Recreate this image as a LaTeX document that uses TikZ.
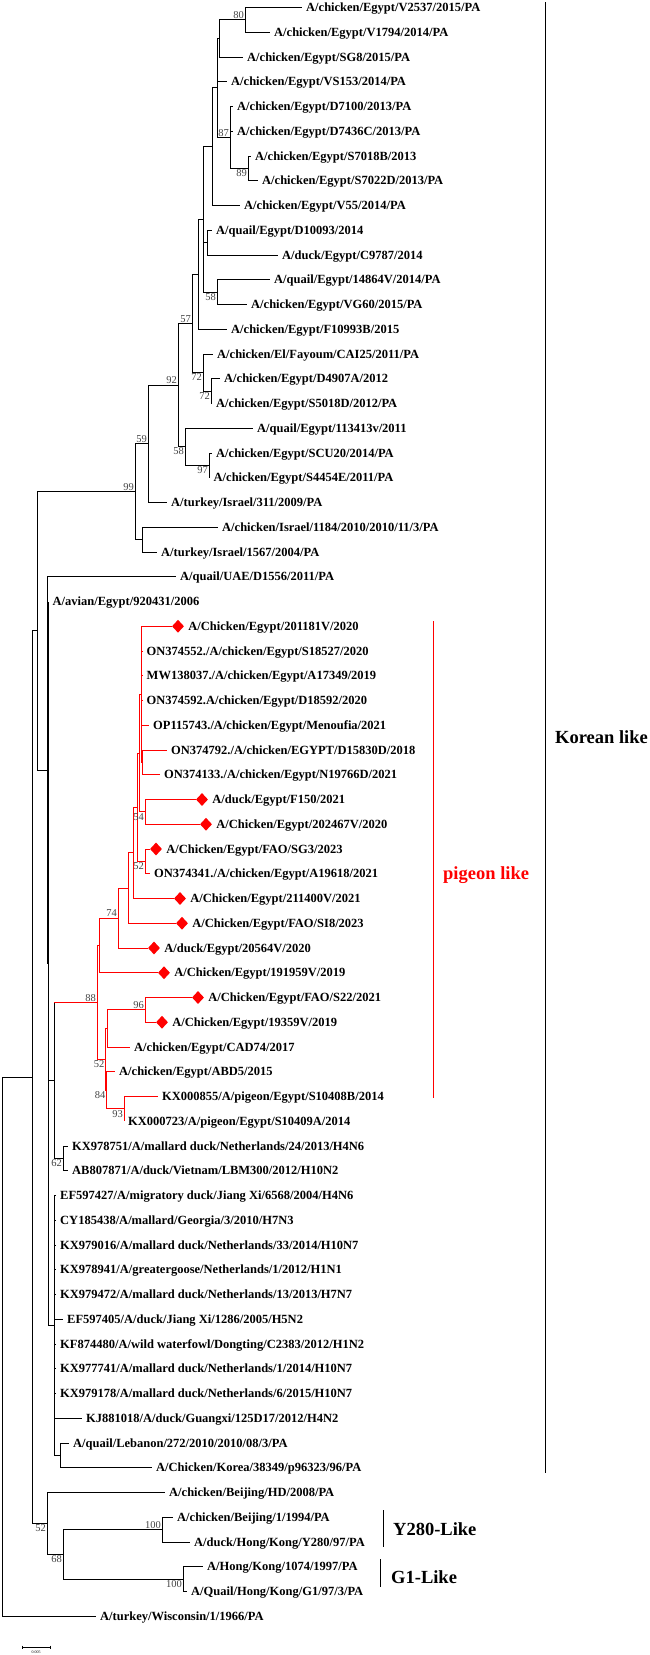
\documentclass[tikz,border=0pt]{standalone}
\usepackage{fontspec}
\setmainfont{Liberation Serif}
\usetikzlibrary{positioning,shapes.geometric}
\newcommand{\lblfont}{\fontsize{12.5}{14}\selectfont\bfseries}
\newcommand{\bsfont}{\fontsize{10.5}{12}\selectfont}
\newcommand{\cladefont}{\fontsize{18.5}{20}\selectfont\bfseries}
\definecolor{bsgray}{HTML}{444444}
\begin{document}
\begin{tikzpicture}[x=1pt, y=-1pt,
    leaf/.style={anchor=west, font=\lblfont, inner xsep=4pt, inner ysep=0pt, text height=8pt, text depth=0pt},
    mk/.style={diamond, fill=red, draw=none, minimum width=12pt, minimum height=13pt, inner sep=0pt},
    boot/.style={font=\bsfont, text=bsgray, inner sep=1pt},
    br/.style={line width=0.9pt, black},
    rbr/.style={line width=0.9pt, red},
    clade/.style={font=\cladefont, anchor=west, inner sep=0pt, text height=13pt, text depth=0pt}
  ]
\fill[white] (0,0) rectangle (650,1655);
\useasboundingbox (0,0) rectangle (650,1655);

% leaves
\node[leaf] (v2537) at (302,7.5) {A/chicken/Egypt/V2537/2015/PA};
\node[leaf] (v1794) at (270,32.25) {A/chicken/Egypt/V1794/2014/PA};
\node[leaf] (sg8) at (243,57) {A/chicken/Egypt/SG8/2015/PA};
\node[leaf] (vs153) at (227,81.75) {A/chicken/Egypt/VS153/2014/PA};
\node[leaf] (d7100) at (233,106.5) {A/chicken/Egypt/D7100/2013/PA};
\node[leaf] (d7436c) at (233,131.25) {A/chicken/Egypt/D7436C/2013/PA};
\node[leaf] (s7018b) at (251,156) {A/chicken/Egypt/S7018B/2013};
\node[leaf] (s7022d) at (258,180.75) {A/chicken/Egypt/S7022D/2013/PA};
\node[leaf] (v55) at (240,205.5) {A/chicken/Egypt/V55/2014/PA};
\node[leaf] (d10093) at (212,230.25) {A/quail/Egypt/D10093/2014};
\node[leaf] (c9787) at (278,255) {A/duck/Egypt/C9787/2014};
\node[leaf] (q14864v) at (270,279.75) {A/quail/Egypt/14864V/2014/PA};
\node[leaf] (vg60) at (247,304.5) {A/chicken/Egypt/VG60/2015/PA};
\node[leaf] (f10993b) at (227,329.25) {A/chicken/Egypt/F10993B/2015};
\node[leaf] (cai25) at (213,354) {A/chicken/El/Fayoum/CAI25/2011/PA};
\node[leaf] (d4907a) at (220,378.75) {A/chicken/Egypt/D4907A/2012};
\node[leaf] (s5018d) at (212,403.5) {A/chicken/Egypt/S5018D/2012/PA};
\node[leaf] (q113413v) at (253,428.25) {A/quail/Egypt/113413v/2011};
\node[leaf] (scu20) at (212,453) {A/chicken/Egypt/SCU20/2014/PA};
\node[leaf] (s4454e) at (209.5,477.75) {A/chicken/Egypt/S4454E/2011/PA};
\node[leaf] (tk311) at (167,502.5) {A/turkey/Israel/311/2009/PA};
\node[leaf] (isr1184) at (218,527.25) {A/chicken/Israel/1184/2010/2010/11/3/PA};
\node[leaf] (tk1567) at (157,552) {A/turkey/Israel/1567/2004/PA};
\node[leaf] (uae) at (176,576.75) {A/quail/UAE/D1556/2011/PA};
\node[leaf] (avian) at (48.5,601.5) {A/avian/Egypt/920431/2006};
\node[mk] (m201181v) at (178,626.25) {};
\node[leaf, right=0pt of m201181v] (c201181v) {A/Chicken/Egypt/201181V/2020};
\node[leaf] (on552) at (142.5,651) {ON374552./A/chicken/Egypt/S18527/2020};
\node[leaf] (mw037) at (142.5,675.75) {MW138037./A/chicken/Egypt/A17349/2019};
\node[leaf] (on592) at (142.5,700.5) {ON374592.A/chicken/Egypt/D18592/2020};
\node[leaf] (op743) at (149,725.25) {OP115743./A/chicken/Egypt/Menoufia/2021};
\node[leaf] (on792) at (167,750) {ON374792./A/chicken/EGYPT/D15830D/2018};
\node[leaf] (on133) at (160,774.75) {ON374133./A/chicken/Egypt/N19766D/2021};
\node[mk] (mf150) at (202,799.5) {};
\node[leaf, right=0pt of mf150] (f150) {A/duck/Egypt/F150/2021};
\node[mk] (m202467v) at (206,824.25) {};
\node[leaf, right=0pt of m202467v] (c202467v) {A/Chicken/Egypt/202467V/2020};
\node[mk] (msg3) at (156,849) {};
\node[leaf, right=0pt of msg3] (sg3) {A/Chicken/Egypt/FAO/SG3/2023};
\node[leaf] (on341) at (150,873.75) {ON374341./A/chicken/Egypt/A19618/2021};
\node[mk] (m211400v) at (180,898.5) {};
\node[leaf, right=0pt of m211400v] (c211400v) {A/Chicken/Egypt/211400V/2021};
\node[mk] (msi8) at (182,923.25) {};
\node[leaf, right=0pt of msi8] (si8) {A/Chicken/Egypt/FAO/SI8/2023};
\node[mk] (m20564v) at (154,948) {};
\node[leaf, right=0pt of m20564v] (d20564v) {A/duck/Egypt/20564V/2020};
\node[mk] (m191959v) at (164,972.75) {};
\node[leaf, right=0pt of m191959v] (c191959v) {A/Chicken/Egypt/191959V/2019};
\node[mk] (ms22) at (198,997.5) {};
\node[leaf, right=0pt of ms22] (s22) {A/Chicken/Egypt/FAO/S22/2021};
\node[mk] (m19359v) at (162,1022.25) {};
\node[leaf, right=0pt of m19359v] (c19359v) {A/Chicken/Egypt/19359V/2019};
\node[leaf] (cad74) at (130,1047) {A/chicken/Egypt/CAD74/2017};
\node[leaf] (abd5) at (115,1071.75) {A/chicken/Egypt/ABD5/2015};
\node[leaf] (kx855) at (158,1096.5) {KX000855/A/pigeon/Egypt/S10408B/2014};
\node[leaf] (kx723) at (124,1121.25) {KX000723/A/pigeon/Egypt/S10409A/2014};
\node[leaf] (kx751) at (68,1146) {KX978751/A/mallard duck/Netherlands/24/2013/H4N6};
\node[leaf] (ab871) at (68,1170.75) {AB807871/A/duck/Vietnam/LBM300/2012/H10N2};
\node[leaf] (ef427) at (56,1195.5) {EF597427/A/migratory duck/Jiang Xi/6568/2004/H4N6};
\node[leaf] (cy438) at (56,1220.25) {CY185438/A/mallard/Georgia/3/2010/H7N3};
\node[leaf] (kx016) at (56,1245) {KX979016/A/mallard duck/Netherlands/33/2014/H10N7};
\node[leaf] (kx941) at (56,1269.75) {KX978941/A/greatergoose/Netherlands/1/2012/H1N1};
\node[leaf] (kx472) at (56,1294.5) {KX979472/A/mallard duck/Netherlands/13/2013/H7N7};
\node[leaf] (ef405) at (63,1319.25) {EF597405/A/duck/Jiang Xi/1286/2005/H5N2};
\node[leaf] (kf480) at (56,1344) {KF874480/A/wild waterfowl/Dongting/C2383/2012/H1N2};
\node[leaf] (kx741) at (56,1368.75) {KX977741/A/mallard duck/Netherlands/1/2014/H10N7};
\node[leaf] (kx178) at (56,1393.5) {KX979178/A/mallard duck/Netherlands/6/2015/H10N7};
\node[leaf] (kj018) at (82,1418.25) {KJ881018/A/duck/Guangxi/125D17/2012/H4N2};
\node[leaf] (lebanon) at (69,1443) {A/quail/Lebanon/272/2010/2010/08/3/PA};
\node[leaf] (korea) at (152,1467.75) {A/Chicken/Korea/38349/p96323/96/PA};
\node[leaf] (bjhd) at (165,1492.5) {A/chicken/Beijing/HD/2008/PA};
\node[leaf] (bj1994) at (173,1517.25) {A/chicken/Beijing/1/1994/PA};
\node[leaf] (y280) at (190,1542) {A/duck/Hong/Kong/Y280/97/PA};
\node[leaf] (hk1074) at (203,1566.75) {A/Hong/Kong/1074/1997/PA};
\node[leaf] (g1) at (187,1591.5) {A/Quail/Hong/Kong/G1/97/3/PA};
\node[leaf] (wisc) at (96,1616.25) {A/turkey/Wisconsin/1/1966/PA};

% inner nodes
\coordinate (n80) at (245,19.9);
\coordinate (nA) at (219,38.4);
\coordinate (n89) at (248,168.4);
\coordinate (n87) at (230,137.4);
\coordinate (nB) at (217,87.9);
\coordinate (nD) at (212,146.7);
\coordinate (nQD) at (207,242.6);
\coordinate (n58a) at (217,292.1);
\coordinate (nC) at (203,219.4);
\coordinate (nE) at (198,274.3);
\coordinate (n72b) at (211,391.1);
\coordinate (n72a) at (203,372.6);
\coordinate (n57) at (192,323.5);
\coordinate (n97) at (209,465.4);
\coordinate (n58b) at (185,446.8);
\coordinate (n92) at (178,385.1);
\coordinate (n59) at (148,443.8);
\coordinate (nIsr) at (142,539.6);
\coordinate (n99) at (135,491.7);
\coordinate (nON) at (142.5,762.4);
\coordinate (nTop) at (141.5,694.3);
\coordinate (nF) at (145,811.9);
\coordinate (n54) at (139,753.1);
\coordinate (nSG3) at (145,861.4);
\coordinate (nW) at (137,807.2);
\coordinate (nZ) at (133,852.9);
\coordinate (nX) at (128,888.1);
\coordinate (n74) at (118,918);
\coordinate (nY) at (99,945.4);
\coordinate (n96) at (145,1009.9);
\coordinate (nCAD) at (107.5,1028.4);
\coordinate (n93) at (124,1108.9);
\coordinate (n84) at (106.5,1090.3);
\coordinate (n52r) at (105.5,1059.4);
\coordinate (n88) at (97,1002.4);
\coordinate (n62) at (63,1158.4);
\coordinate (nQ3) at (54,1080.4);
\coordinate (nLK) at (60,1455.4);
\coordinate (nS) at (54,1325.4);
\coordinate (nQ2) at (48.5,963.5);
\coordinate (nQ) at (47,770.1);
\coordinate (nP) at (37,630.9);
\coordinate (nY280) at (162,1529.6);
\coordinate (nG1) at (183,1579.1);
\coordinate (n68) at (63,1554.4);
\coordinate (n52b) at (47,1523.4);
\coordinate (nR) at (32,1077.2);
\coordinate (root) at (2,1346.7);

% branches
\draw[br] (n80) |- (v2537) (n80) |- (v1794);
\draw[br] (nA) |- (n80) (nA) |- (sg8);
\draw[br] (n89) |- (s7018b) (n89) |- (s7022d);
\draw[br] (n87) |- (d7100) (n87) |- (d7436c) (n87) |- (n89);
\draw[br] (nB) |- (nA) (nB) |- (vs153) (nB) |- (n87);
\draw[br] (nD) |- (nB) (nD) |- (v55);
\draw[br] (nQD) |- (d10093) (nQD) |- (c9787);
\draw[br] (n58a) |- (q14864v) (n58a) |- (vg60);
\draw[br] (nC) |- (nD) (nC) |- (nQD) (nC) |- (n58a);
\draw[br] (nE) |- (nC) (nE) |- (f10993b);
\draw[br] (n72b) |- (d4907a) (n72b) |- (s5018d);
\draw[br] (n72a) |- (cai25) (n72a) |- (n72b);
\draw[br] (n57) |- (nE) (n57) |- (n72a);
\draw[br] (n97) |- (scu20) (n97) |- (s4454e);
\draw[br] (n58b) |- (q113413v) (n58b) |- (n97);
\draw[br] (n92) |- (n57) (n92) |- (n58b);
\draw[br] (n59) |- (n92) (n59) |- (tk311);
\draw[br] (nIsr) |- (isr1184) (nIsr) |- (tk1567);
\draw[br] (n99) |- (n59) (n99) |- (nIsr);
\draw[br] (nP) |- (n99) (nP) |- (nQ);
\draw[br] (nQ) |- (uae) (nQ) |- (nQ2);
\draw[br] (nQ2) |- (avian) (nQ2) |- (nQ3) (nQ2) |- (nS);
\draw[br] (nQ3) -- (nQ3 |- n88) (nQ3) |- (n62);

% pigeon like clade in red
\draw[rbr] (nQ3 |- n88) -- (n88);
\draw[rbr] (nTop) |- (m201181v) (nTop) |- (on552) (nTop) |- (mw037) (nTop) |- (on592) (nTop) |- (op743) (nTop) |- (nON);
\draw[rbr] (nON) |- (on792) (nON) |- (on133);
\draw[rbr] (nF) |- (mf150) (nF) |- (m202467v);
\draw[rbr] (n54) |- (nTop) (n54) |- (nF);
\draw[rbr] (nSG3) |- (msg3) (nSG3) |- (on341);
\draw[rbr] (nW) |- (n54) (nW) |- (nSG3);
\draw[rbr] (nZ) |- (nW) (nZ) |- (m211400v);
\draw[rbr] (nX) |- (nZ) (nX) |- (msi8);
\draw[rbr] (n74) |- (nX) (n74) |- (m20564v);
\draw[rbr] (nY) |- (n74) (nY) |- (m191959v);
\draw[rbr] (n96) |- (ms22) (n96) |- (m19359v);
\draw[rbr] (nCAD) |- (n96) (nCAD) |- (cad74);
\draw[rbr] (n93) |- (kx855) (n93) |- (kx723);
\draw[rbr] (n84) |- (abd5) (n84) |- (n93);
\draw[rbr] (n52r) |- (nCAD) (n52r) |- (n84);
\draw[rbr] (n88) |- (nY) (n88) |- (n52r);

\draw[br] (n62) |- (kx751) (n62) |- (ab871);
\draw[br] (nLK) |- (lebanon) (nLK) |- (korea);
\draw[br] (nS) |- (ef427) (nS) |- (cy438) (nS) |- (kx016) (nS) |- (kx941) (nS) |- (kx472) (nS) |- (ef405)
  (nS) |- (kf480) (nS) |- (kx741) (nS) |- (kx178) (nS) |- (kj018) (nS) |- (nLK);
\draw[br] (nY280) |- (bj1994) (nY280) |- (y280);
\draw[br] (nG1) |- (hk1074) (nG1) |- (g1);
\draw[br] (n68) |- (nY280) (n68) |- (nG1);
\draw[br] (n52b) |- (bjhd) (n52b) |- (n68);
\draw[br] (nR) |- (nP) (nR) |- (n52b);
\draw[br] (root) |- (nR) (root) |- (wisc);

% bootstrap values
\node[boot, above left] (b80) at (n80) {80};
\node[boot, above left] (b87) at (n87) {87};
\node[boot, below left] (b89) at (n89) {89};
\node[boot, below left] (b58a) at (n58a) {58};
\node[boot, above left] (b57) at (n57) {57};
\node[boot, below left] (b72a) at (n72a) {72};
\node[boot, below left] (b72b) at (n72b) {72};
\node[boot, above left] (b92) at (n92) {92};
\node[boot, below left] (b58b) at (n58b) {58};
\node[boot, below left] (b97) at (n97) {97};
\node[boot, above left] (b59) at (n59) {59};
\node[boot, above left] (b99) at (n99) {99};
\node[boot, below left] (b54) at (nF) {54};
\node[boot, below left] (b52a) at (nSG3) {52};
\node[boot, above left] (b74) at (n74) {74};
\node[boot, above left] (b88) at (n88) {88};
\node[boot, above left] (b96) at (n96) {96};
\node[boot, below left] (b52b) at (n52r) {52};
\node[boot, below left] (b84) at (n84) {84};
\node[boot, below left] (b93) at (n93) {93};
\node[boot, below left] (b62) at (n62) {62};
\node[boot, below left] (b52c) at (n52b) {52};
\node[boot, below left] (b68) at (n68) {68};
\node[boot, above left] (b100a) at (nY280) {100};
\node[boot, below left] (b100b) at (nG1) {100};

% clade bars
\coordinate (kTop) at (545,2);
\coordinate (kBot) at (545,1473);
\draw[br] (kTop) -- (kBot);
\node[clade] (korean) at (555,737) {Korean like};
\coordinate (pTop) at (433,621);
\coordinate (pBot) at (433,1098);
\draw[rbr] (pTop) -- (pBot);
\node[clade, text=red] (pigeon) at (443,873) {pigeon like};
\coordinate (yTop) at (383,1510);
\coordinate (yBot) at (383,1547);
\draw[br] (yTop) -- (yBot);
\node[clade] (y280like) at (393,1529) {Y280-Like};
\coordinate (gTop) at (380,1559);
\coordinate (gBot) at (380,1587);
\draw[br] (gTop) -- (gBot);
\node[clade] (g1like) at (391,1577) {G1-Like};

% scale bar
\coordinate (sbL) at (22,1647);
\coordinate (sbR) at (50,1647);
\draw[line width=0.4pt] (sbL) -- (sbR) (sbL) ++(0,-1.5) -- ++(0,3) (sbR) ++(0,-1.5) -- ++(0,3);
\node[font=\fontsize{4}{4}\selectfont, inner sep=0pt] (sbtxt) at (36,1652) {0.005};
\end{tikzpicture}
\end{document}
